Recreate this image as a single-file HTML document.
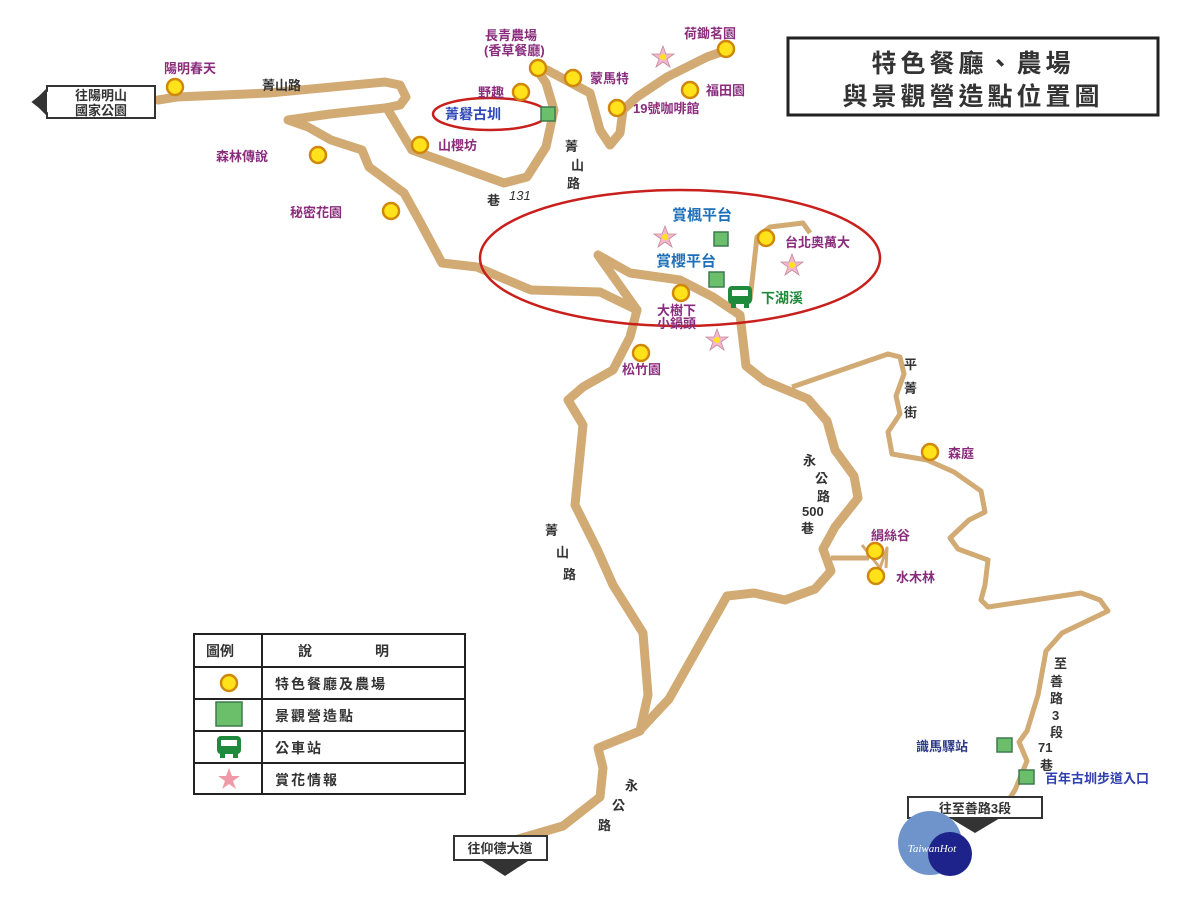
<!DOCTYPE html>
<html><head><meta charset="utf-8"><style>
html,body{margin:0;padding:0;background:#fff;}
svg{display:block;}
text{font-family:"Liberation Sans","Noto Sans CJK TC","WenQuanYi Zen Hei",sans-serif;font-weight:bold;}
.p{fill:#8a2c7c;font-size:13px;}
.k{fill:#333;font-size:13px;}
.b{fill:#1e6fb8;font-size:15px;}
</style></head><body>
<svg width="1200" height="900" viewBox="0 0 1200 900" xmlns="http://www.w3.org/2000/svg">
<g fill="none" stroke="#d1aa74" stroke-width="9" stroke-linejoin="round" stroke-linecap="round">
<!-- main road from left -->
<path d="M158,100 L177,97 L269,93 L385,82 L400,85 L406,97 L400,105 L385,108 L330,114 L288,120 L308,127 L331,140 L362,150 L369,167 L404,193 L419,220 L442,263 L477,267 L500,277 L531,290 L600,292 L637,310"/>
<!-- 山櫻坊 loop -->
<path d="M388,110 L412,150 L504,183 L527,177 L546,147 L554,110 L546,83 L537,70"/>
<!-- top right loop -->
<path d="M537,70 L547,70 L590,93 L600,130 L610,145 L620,133 L623,110 L637,97 L667,77 L707,57 L727,50"/>
<!-- hairpin + 永公路 -->
<path d="M637,310 L598,255 L630,273 L680,280 L713,297 L740,315 L746,366 L765,381 L808,399 L827,421 L835,450 L854,476 L858,498 L835,527 L823,549 L831,571 L815,589 L785,600 L754,593 L727,596 L700,644 L669,699 L640,730"/>
<!-- 菁山路 south -->
<path d="M637,310 L630,337 L613,370 L583,387 L568,400 L583,425 L575,505 L597,549 L613,585 L643,633 L648,695 L640,731 L598,748 L603,768 L600,797 L563,826 L515,840"/>
</g>
<g fill="none" stroke="#d1aa74" stroke-width="5" stroke-linejoin="round">
<path d="M750,300 L757,237 L770,227 L803,223 L810,233"/>
<path d="M792,387 L888,354 L900,357 L904,374 L896,396 L900,414 L888,432 L892,454 L927,460 L954,472 L981,491 L985,512 L969,520 L950,538 L958,549 L988,560 L985,585 L981,600 L988,607 L1081,593 L1100,600 L1108,611 L1062,633 L1046,651 L1038,695 L1027,731 L1019,742 L1027,761 L1015,790 L1008,801"/>
<path d="M831,558 L869,558"/>
<path d="M862,545 L880,568 L887,548 L886,568" stroke-width="3"/>
</g>
<!-- red ellipses -->
<ellipse cx="490" cy="114" rx="57" ry="16" fill="none" stroke="#c8201c" stroke-width="2.5"/>
<ellipse cx="680" cy="258" rx="200" ry="68" fill="none" stroke="#c8201c" stroke-width="2.5"/>
<!-- dots -->
<g fill="#ffe21a" stroke="#d0880c" stroke-width="2.5">
<circle cx="175" cy="87" r="8"/><circle cx="521" cy="92" r="8"/><circle cx="538" cy="68" r="8"/>
<circle cx="573" cy="78" r="8"/><circle cx="726" cy="49" r="8"/><circle cx="690" cy="90" r="8"/>
<circle cx="617" cy="108" r="8"/><circle cx="420" cy="145" r="8"/><circle cx="318" cy="155" r="8"/>
<circle cx="391" cy="211" r="8"/><circle cx="766" cy="238" r="8"/><circle cx="681" cy="293" r="8"/>
<circle cx="641" cy="353" r="8"/><circle cx="930" cy="452" r="8"/><circle cx="875" cy="551" r="8"/>
<circle cx="876" cy="576" r="8"/><circle cx="229" cy="683" r="8"/>
</g>
<!-- green squares -->
<g fill="#6cbf6a" stroke="#3f7a4e" stroke-width="1.5">
<rect x="541" y="107" width="14" height="14"/><rect x="714" y="232" width="14" height="14"/>
<rect x="709" y="272" width="15" height="15"/><rect x="997" y="738" width="15" height="14"/>
<rect x="1019" y="770" width="15" height="14"/><rect x="216" y="702" width="26" height="24"/>
</g>
<!-- stars -->
<g fill="#f3b8c8" stroke="#c48aa0" stroke-width="0.8">
<g transform="translate(663,57)"><path d="M0,-11 L3,-3 L11,-3 L4,2 L7,10 L0,5 L-7,10 L-4,2 L-11,-3 L-3,-3Z"/><circle r="3" fill="#ffe21a" stroke="none"/></g>
<g transform="translate(665,237)"><path d="M0,-11 L3,-3 L11,-3 L4,2 L7,10 L0,5 L-7,10 L-4,2 L-11,-3 L-3,-3Z"/><circle r="3" fill="#ffe21a" stroke="none"/></g>
<g transform="translate(792,265)"><path d="M0,-11 L3,-3 L11,-3 L4,2 L7,10 L0,5 L-7,10 L-4,2 L-11,-3 L-3,-3Z"/><circle r="3" fill="#ffe21a" stroke="none"/></g>
<g transform="translate(717,340)"><path d="M0,-11 L3,-3 L11,-3 L4,2 L7,10 L0,5 L-7,10 L-4,2 L-11,-3 L-3,-3Z"/><circle r="3" fill="#ffe21a" stroke="none"/></g>
<g transform="translate(229,779)"><path d="M0,-11 L3,-3 L11,-3 L4,2 L7,10 L0,5 L-7,10 L-4,2 L-11,-3 L-3,-3Z" fill="#f09aa8" stroke="none"/></g>
</g>
<!-- bus icons -->
<g fill="#1f8a3c">
<rect x="728" y="286" width="24" height="18" rx="4"/><rect x="731" y="303" width="5" height="5"/><rect x="744" y="303" width="5" height="5"/>
<rect x="732" y="290" width="16" height="6" fill="#fff"/>
<rect x="217" y="736" width="24" height="18" rx="4"/><rect x="220" y="753" width="5" height="5"/><rect x="233" y="753" width="5" height="5"/>
<rect x="221" y="740" width="16" height="6" fill="#fff"/>
</g>
<!-- labels -->
<text class="p" x="164" y="73">陽明春天</text>
<text class="k" x="262" y="90">菁山路</text>
<text class="p" x="485" y="40">長青農場</text>
<text class="p" x="484" y="55">(香草餐廳)</text>
<text class="p" x="478" y="97">野趣</text>
<text class="p" x="590" y="83">蒙馬特</text>
<text class="p" x="684" y="38">荷鋤茗園</text>
<text class="p" x="706" y="95">福田園</text>
<text class="p" x="633" y="113">19號咖啡館</text>
<text x="445" y="119" style="fill:#2f48b8;font-size:14px">菁礜古圳</text>
<text class="p" x="438" y="150">山櫻坊</text>
<text class="p" x="216" y="161">森林傳說</text>
<text class="p" x="290" y="217">秘密花園</text>
<text class="k" x="565" y="151">菁</text><text class="k" x="571" y="170">山</text><text class="k" x="567" y="188">路</text>
<text class="k" x="487" y="205">巷</text><text class="k" x="509" y="200" style="font-weight:normal;font-style:italic">131</text>
<text class="b" x="672" y="220">賞楓平台</text>
<text class="p" x="785" y="247">台北奧萬大</text>
<text class="b" x="656" y="266">賞櫻平台</text>
<text x="761" y="303" style="fill:#1f8a3c;font-size:14px">下湖溪</text>
<text class="p" x="657" y="315">大樹下</text>
<text class="p" x="657" y="328">小鍋頭</text>
<text class="p" x="622" y="374">松竹園</text>
<text class="k" x="904" y="369">平</text><text class="k" x="904" y="393">菁</text><text class="k" x="904" y="417">街</text>
<text class="p" x="948" y="458">森庭</text>
<text class="k" x="803" y="465">永</text><text class="k" x="815" y="483">公</text><text class="k" x="817" y="501">路</text>
<text class="k" x="802" y="516">500</text><text class="k" x="801" y="533">巷</text>
<text class="p" x="871" y="540">絹絲谷</text>
<text class="p" x="896" y="582">水木林</text>
<text class="k" x="545" y="535">菁</text><text class="k" x="556" y="557">山</text><text class="k" x="563" y="579">路</text>
<text class="k" x="625" y="790">永</text><text class="k" x="612" y="810">公</text><text class="k" x="598" y="830">路</text>
<text class="k" x="1054" y="668">至</text><text class="k" x="1050" y="686">善</text><text class="k" x="1050" y="703">路</text>
<text class="k" x="1052" y="720">3</text><text class="k" x="1050" y="737">段</text><text class="k" x="1038" y="752">71</text>
<text class="k" x="1040" y="770">巷</text>
<text x="916" y="751" style="fill:#2e3a8a;font-size:13px">識馬驛站</text>
<text x="1045" y="783" style="fill:#3040b0;font-size:13px">百年古圳步道入口</text>
<!-- title -->
<rect x="788" y="38" width="370" height="77" fill="#fff" stroke="#222" stroke-width="3"/>
<text x="973" y="72" text-anchor="middle" style="fill:#333;font-size:25px;letter-spacing:4px">特色餐廳、農場</text>
<text x="973" y="105" text-anchor="middle" style="fill:#333;font-size:25px;letter-spacing:4px">與景觀營造點位置圖</text>
<!-- left sign -->
<path d="M47,86 L155,86 L155,118 L47,118 L47,113 L33,102 L47,91Z" fill="#fff" stroke="#333" stroke-width="2"/>
<path d="M47,88 L33,102 L47,116Z" fill="#333"/>
<text x="101" y="100" text-anchor="middle" style="fill:#333;font-size:13px">往陽明山</text>
<text x="101" y="115" text-anchor="middle" style="fill:#333;font-size:13px">國家公園</text>
<!-- bottom sign -->
<rect x="454" y="836" width="93" height="24" fill="#fff" stroke="#333" stroke-width="2"/>
<path d="M482,861 L528,861 L505,876Z" fill="#333"/>
<text x="500" y="853" text-anchor="middle" style="fill:#333;font-size:13px">往仰德大道</text>
<rect x="908" y="797" width="134" height="21" fill="#fff" stroke="#333" stroke-width="2"/>
<path d="M950,818 L1000,818 L975,833Z" fill="#333"/>
<text x="975" y="813" text-anchor="middle" style="fill:#333;font-size:13px">往至善路3段</text>
<!-- logo -->
<circle cx="930" cy="843" r="32" fill="#6f94cc"/>
<circle cx="950" cy="854" r="22" fill="#1d238a"/>
<text x="932" y="852" text-anchor="middle" style="fill:#fff;font-size:11px;font-style:italic;font-weight:normal;font-family:'Liberation Serif',serif">TaiwanHot</text>
<!-- legend -->
<g stroke="#222" stroke-width="2" fill="none">
<rect x="194" y="634" width="271" height="160"/>
<line x1="262" y1="634" x2="262" y2="794"/>
<line x1="194" y1="667" x2="465" y2="667"/>
<line x1="194" y1="699" x2="465" y2="699"/>
<line x1="194" y1="731" x2="465" y2="731"/>
<line x1="194" y1="763" x2="465" y2="763"/>
</g>
<text x="206" y="656" style="fill:#333;font-size:14px">圖例</text>
<text x="298" y="656" style="fill:#333;font-size:14px">說</text>
<text x="375" y="656" style="fill:#333;font-size:14px">明</text>
<text x="275" y="689" style="fill:#333;font-size:14px;letter-spacing:2px">特色餐廳及農場</text>
<text x="275" y="721" style="fill:#333;font-size:14px;letter-spacing:2px">景觀營造點</text>
<text x="275" y="753" style="fill:#333;font-size:14px;letter-spacing:2px">公車站</text>
<text x="275" y="785" style="fill:#333;font-size:14px;letter-spacing:2px">賞花情報</text>
</svg>
</body></html>
